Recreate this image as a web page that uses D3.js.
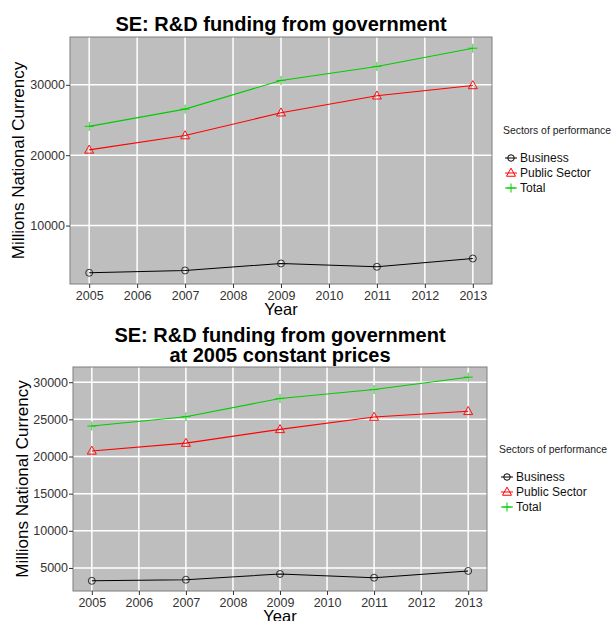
<!DOCTYPE html>
<html>
<head>
<meta charset="utf-8">
<script src="https://cdn.jsdelivr.net/npm/d3@7"></script>
<style>
  body { margin: 0; background: #fff; }
  svg { display: block; font-family: "Liberation Sans", Arial, sans-serif; }
</style>
</head>
<body>
<svg width="611" height="621"></svg>
<script>
const years = [2005, 2007, 2009, 2011, 2013];
const yearTicks = [2005, 2006, 2007, 2008, 2009, 2010, 2011, 2012, 2013];
const sectors = ["Business", "Public Sector", "Total"];

// current prices
const nominalBusiness = [3290, 3620, 4610, 4140, 5320];
const nominalPublic = [20750, 22790, 26030, 28440, 29910];
const nominalTotal = [24100, 26550, 30620, 32610, 35200];
const nominalTicks = [10000, 20000, 30000];

// 2005 constant prices
const constBusiness = [3270, 3420, 4190, 3690, 4600];
const constPublic = [20750, 21800, 23650, 25310, 26080];
const constTotal = [24100, 25360, 27800, 29015, 30675];
const constTicks = [5000, 10000, 15000, 20000, 25000, 30000];

const colors = ["#000000", "#FF0000", "#00CD00"];
const shapes = ["circle", "triangle", "plus"];

const svg = d3.select("svg");

function symbolPath(shape, s) {
  if (shape === "triangle") {
    const h = s * 0.9;
    return `M0,${-h * 0.6}L${s / 2},${h * 0.4}L${-s / 2},${h * 0.4}Z`;
  }
  if (shape === "plus") {
    return `M${-s / 2},0H${s / 2}M0,${-s / 2}V${s / 2}`;
  }
  const r = s / 2;
  return `M${r},0A${r},${r} 0 1,1 ${-r},0A${r},${r} 0 1,1 ${r},0Z`;
}

// ggplot style 5% expansion of the data range
function expand(lo, hi, f) {
  const d = (hi - lo) * f;
  return [lo - d, hi + d];
}

function drawPanel(p) {
  const g = svg.append("g");
  const x = d3.scaleLinear().domain(expand(2005, 2013, 0.05)).range([p.left, p.right]);
  const all = p.series.flat();
  const y = d3.scaleLinear().domain(expand(d3.min(all), d3.max(all), 0.05)).range([p.bottom, p.top]);

  // panel
  g.append("rect")
    .attr("x", p.left).attr("y", p.top)
    .attr("width", p.right - p.left).attr("height", p.bottom - p.top)
    .attr("fill", "#BEBEBE");

  g.selectAll(".vg").data(yearTicks).enter().append("line")
    .attr("x1", d => x(d)).attr("x2", d => x(d))
    .attr("y1", p.top).attr("y2", p.bottom)
    .attr("stroke", "#fff").attr("stroke-width", 1.5);
  g.selectAll(".hg").data(p.yTicks).enter().append("line")
    .attr("x1", p.left).attr("x2", p.right)
    .attr("y1", d => y(d)).attr("y2", d => y(d))
    .attr("stroke", "#fff").attr("stroke-width", 1.5);

  // series
  p.series.forEach((vals, i) => {
    const pts = years.map((yr, j) => [yr, vals[j]]);
    g.append("path")
      .datum(pts)
      .attr("d", d3.line().x(d => x(d[0])).y(d => y(d[1])))
      .attr("fill", "none")
      .attr("stroke", colors[i])
      .attr("stroke-width", 1.1);
    g.selectAll(".pt" + i).data(pts).enter().append("path")
      .attr("transform", d => `translate(${x(d[0])},${y(d[1])})`)
      .attr("d", symbolPath(shapes[i], shapes[i] === "circle" ? 7 : 9))
      .attr("fill", "none")
      .attr("stroke", colors[i])
      .attr("stroke-opacity", i === 0 ? 0.75 : 0.9)
      .attr("stroke-width", 1);
  });

  g.append("rect")
    .attr("x", p.left).attr("y", p.top)
    .attr("width", p.right - p.left).attr("height", p.bottom - p.top)
    .attr("fill", "none").attr("stroke", "#7F7F7F").attr("stroke-width", 1);

  // axes
  const xAxis = g.append("g")
    .attr("transform", `translate(0,${p.bottom})`)
    .call(d3.axisBottom(x).tickValues(yearTicks).tickFormat(d3.format("d")).tickSize(4).tickSizeOuter(0));
  const yAxis = g.append("g")
    .attr("transform", `translate(${p.left},0)`)
    .call(d3.axisLeft(y).tickValues(p.yTicks).tickFormat(d3.format("d")).tickSize(4).tickSizeOuter(0));
  [xAxis, yAxis].forEach(a => {
    a.select(".domain").remove();
    a.selectAll(".tick line").attr("stroke", "#333").attr("stroke-width", 1);
    a.selectAll(".tick text")
      .attr("font-family", "Liberation Sans, Arial, sans-serif")
      .attr("font-size", 12.5).attr("fill", "#333");
  });
  xAxis.selectAll(".tick text").attr("dy", "0.85em").attr("y", 5);
  yAxis.selectAll(".tick text").attr("x", -5);

  g.append("text")
    .attr("x", (p.left + p.right) / 2).attr("y", p.bottom + 31)
    .attr("text-anchor", "middle").attr("font-size", 16.5).text("Year");

  g.append("text")
    .attr("transform", `translate(${p.yTitleX},${(p.top + p.bottom) / 2}) rotate(-90)`)
    .attr("text-anchor", "middle").attr("font-size", 17).text("Millions National Currency");

  p.title.forEach((t, k) => {
    g.append("text")
      .attr("x", (p.left + p.right) / 2).attr("y", p.titleY + k * 19.5)
      .attr("text-anchor", "middle").attr("font-size", 20).attr("font-weight", "bold")
      .text(t);
  });

  // legend
  const lg = g.append("g").attr("transform", `translate(${p.legX},${p.legY})`);
  lg.append("text").attr("x", 0).attr("y", 0)
    .attr("font-size", 10.4).attr("fill", "#222").text("Sectors of performance");
  sectors.forEach((s, i) => {
    const row = lg.append("g").attr("transform", `translate(0,${28 + i * 15})`);
    row.append("line").attr("x1", 2).attr("x2", 14).attr("y1", -4).attr("y2", -4)
      .attr("stroke", colors[i]).attr("stroke-width", 1);
    row.append("path").attr("transform", "translate(8,-4)")
      .attr("d", symbolPath(shapes[i], shapes[i] === "circle" ? 6.5 : 9))
      .attr("fill", "none").attr("stroke", colors[i]).attr("stroke-width", 1);
    row.append("text").attr("x", 17).attr("y", 0)
      .attr("font-size", 12).attr("fill", "#111").text(s);
  });
}

drawPanel({
  left: 70, right: 492, top: 37, bottom: 284,
  series: [nominalBusiness, nominalPublic, nominalTotal],
  yTicks: nominalTicks,
  title: ["SE: R&D funding from government"],
  titleY: 31,
  yTitleX: 24,
  legX: 503, legY: 134
});

drawPanel({
  left: 73, right: 487, top: 367, bottom: 591,
  series: [constBusiness, constPublic, constTotal],
  yTicks: constTicks,
  title: ["SE: R&D funding from government", "at 2005 constant prices"],
  titleY: 342,
  yTitleX: 28,
  legX: 499, legY: 453
});
</script>
</body>
</html>
